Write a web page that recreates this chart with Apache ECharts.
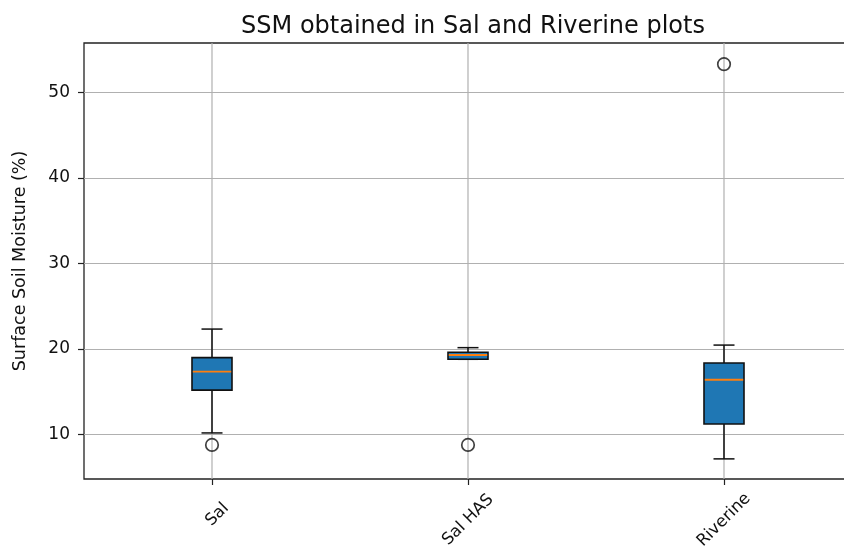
<!DOCTYPE html>
<html>
<head>
<meta charset="utf-8">
<script src="https://cdn.jsdelivr.net/npm/echarts@6/dist/echarts.min.js"></script>
<style>html,body{margin:0;padding:0;background:#fff;}#chart{width:844px;height:550px;}</style>
</head>
<body>
<div id="chart"></div>
<script>
// Categories and five-number summaries: [low whisker, Q1, median, Q3, high whisker]
const categories = ['Sal', 'Sal HAS', 'Riverine'];
const lowWhisker = [10.2, 18.8, 7.17];
const q1Values = [15.2, 18.8, 11.25];
const medianValues = [17.35, 19.3, 16.41];
const q3Values = [19.0, 19.63, 18.36];
const highWhisker = [22.33, 20.16, 20.46];
// Outliers: [category index, value]
const outlierPoints = [[0, 8.8], [1, 8.8], [2, 53.27]];
const yTicks = [10, 20, 30, 40, 50];

const boxData = categories.map((c, i) => [i, lowWhisker[i], q1Values[i], medianValues[i], q3Values[i], highWhisker[i]]);

const chart = echarts.init(document.getElementById('chart'), null, {renderer: 'canvas'});
const BOX_W = 40, CAP_W = 21;
const txt = '#111';
const xLabelFont = {fontFamily: 'DejaVu Sans', fontSize: 16.5, color: txt};

chart.setOption({
  animation: false,
  backgroundColor: '#fff',
  title: {
    text: 'SSM obtained in Sal and Riverine plots',
    left: 468, top: 10, textAlign: 'center',
    textStyle: {fontFamily: 'DejaVu Sans', fontSize: 24, fontWeight: 'normal', color: txt}
  },
  grid: {left: 84, top: 43, width: 768, height: 436, outerBoundsMode: 'none', containLabel: false,
    show: true, borderColor: '#222', borderWidth: 1.3, backgroundColor: 'transparent'},
  xAxis: {
    type: 'category',
    data: [
      {value: categories[0], textStyle: Object.assign({align: 'center', verticalAlign: 'middle', padding: [0, 0, 15, 15]}, xLabelFont)},
      categories[1],
      categories[2]
    ],
    boundaryGap: true,
    axisLine: {show: false},
    axisTick: {show: true, alignWithLabel: true, length: 6, lineStyle: {color: '#222', width: 1.2}},
    axisLabel: Object.assign({interval: 0, rotate: 45, align: 'center', verticalAlign: 'middle', margin: 41}, xLabelFont),
    splitLine: {show: false}
  },
  yAxis: {
    type: 'value', min: 4.82, max: 55.74,
    name: 'Surface Soil Moisture (%)', nameLocation: 'middle', nameGap: 55,
    nameTextStyle: {fontFamily: 'DejaVu Sans', fontSize: 17.5, color: txt},
    axisLine: {show: false},
    axisTick: {show: true, length: 6, customValues: yTicks, lineStyle: {color: '#222', width: 1.2}},
    axisLabel: {customValues: yTicks, margin: 14, fontFamily: 'DejaVu Sans', fontSize: 17, color: txt},
    splitLine: {show: true, lineStyle: {color: '#b0b0b0', width: 1.2}}
  },
  series: [
    {
      type: 'custom',
      data: boxData,
      encode: {x: 0, y: [1, 2, 3, 4, 5]},
      z: 2,
      renderItem: function (params, api) {
        const idx = api.value(0);
        const cs = params.coordSys;
        const pLow = api.coord([idx, api.value(1)]);
        const pQ1 = api.coord([idx, api.value(2)]);
        const pMed = api.coord([idx, api.value(3)]);
        const pQ3 = api.coord([idx, api.value(4)]);
        const pHigh = api.coord([idx, api.value(5)]);
        const x = pMed[0];
        const blk = {stroke: '#111', lineWidth: 1.5};
        return {
          type: 'group',
          children: [
            {type: 'line', shape: {x1: x, y1: cs.y, x2: x, y2: cs.y + cs.height}, style: {stroke: '#b0b0b0', lineWidth: 1.2}},
            {type: 'line', shape: {x1: x, y1: pQ3[1], x2: x, y2: pHigh[1]}, style: blk},
            {type: 'line', shape: {x1: x, y1: pQ1[1], x2: x, y2: pLow[1]}, style: blk},
            {type: 'line', shape: {x1: x - CAP_W / 2, y1: pHigh[1], x2: x + CAP_W / 2, y2: pHigh[1]}, style: blk},
            {type: 'line', shape: {x1: x - CAP_W / 2, y1: pLow[1], x2: x + CAP_W / 2, y2: pLow[1]}, style: blk},
            {type: 'rect', shape: {x: x - BOX_W / 2, y: pQ3[1], width: BOX_W, height: pQ1[1] - pQ3[1]},
              style: {fill: '#1f77b4', stroke: '#111', lineWidth: 1.6}},
            {type: 'line', shape: {x1: x - BOX_W / 2 + 0.8, y1: pMed[1], x2: x + BOX_W / 2 - 0.8, y2: pMed[1]},
              style: {stroke: '#ff7f0e', lineWidth: 1.8}}
          ]
        };
      }
    },
    {
      type: 'scatter',
      data: outlierPoints,
      symbol: 'circle',
      symbolSize: 12.5,
      z: 3,
      itemStyle: {color: 'rgba(0,0,0,0)', borderColor: '#111', borderWidth: 1.7}
    }
  ]
});
</script>
</body>
</html>
